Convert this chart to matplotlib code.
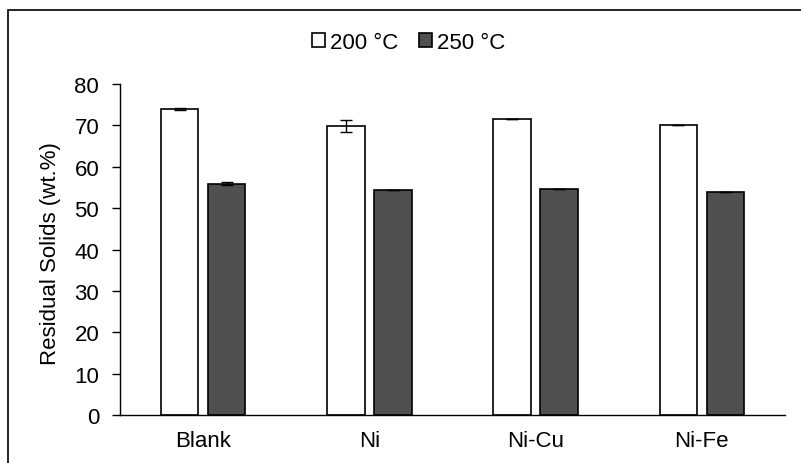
import numpy as np
import matplotlib
matplotlib.use("Agg")
import matplotlib.pyplot as plt
from matplotlib.patches import Rectangle

plt.rcParams['font.family'] = ['Liberation Sans', 'DejaVu Sans']

catalysts = ['Blank', 'Ni', 'Ni-Cu', 'Ni-Fe']
solids_200 = [73.9, 69.8, 71.5, 70.1]
err_200 = [0.2, 1.4, 0.0, 0.0]
solids_250 = [55.9, 54.3, 54.6, 54.0]
err_250 = [0.4, 0.0, 0.0, 0.0]

fig = plt.figure(figsize=(8.01, 4.64), dpi=100)
ax = fig.add_axes([0.1498, 0.1034, 0.8302, 0.7134])

x = np.arange(len(catalysts))
w = 0.225
ax.bar(x - 0.141, solids_200, w, color='white', edgecolor='black', linewidth=1.2,
       label='200 °C')
ax.bar(x + 0.141, solids_250, w, color='#505050', edgecolor='black', linewidth=1.2,
       label='250 °C')
ax.errorbar(x - 0.141, solids_200, yerr=err_200, fmt='none', ecolor='black',
            elinewidth=1, capsize=4, capthick=1)
ax.errorbar(x + 0.141, solids_250, yerr=err_250, fmt='none', ecolor='black',
            elinewidth=1, capsize=4, capthick=1)

ax.set_xlim(-0.5, 3.5)
ax.set_ylim(0, 80)
ax.set_yticks(range(0, 81, 10))
ax.set_xticks(x)
ax.set_xticklabels(catalysts)
ax.tick_params(axis='x', length=0, pad=11, labelsize=16)
ax.tick_params(axis='y', length=6, width=1, pad=9, labelsize=16)
ax.spines['top'].set_visible(False)
ax.spines['right'].set_visible(False)
ax.spines['left'].set_linewidth(1)
ax.spines['bottom'].set_linewidth(1)
ax.set_ylabel('Residual Solids (wt.%)', fontsize=16)
ax.yaxis.set_label_coords(-0.089, 0.49)

fig.legend(loc='center', bbox_to_anchor=(0.51, 0.906), ncol=2, frameon=False,
           fontsize=16, handlelength=0.6, handleheight=0.6, handletextpad=0.2,
           columnspacing=0.95)

# chart frame
fig.patches.append(Rectangle((8 / 801, -0.1), 1.2, 1 - 11 / 464 + 0.1,
                             transform=fig.transFigure, fill=False,
                             edgecolor='black', linewidth=1.2))

fig.savefig('out.png', dpi=100)
